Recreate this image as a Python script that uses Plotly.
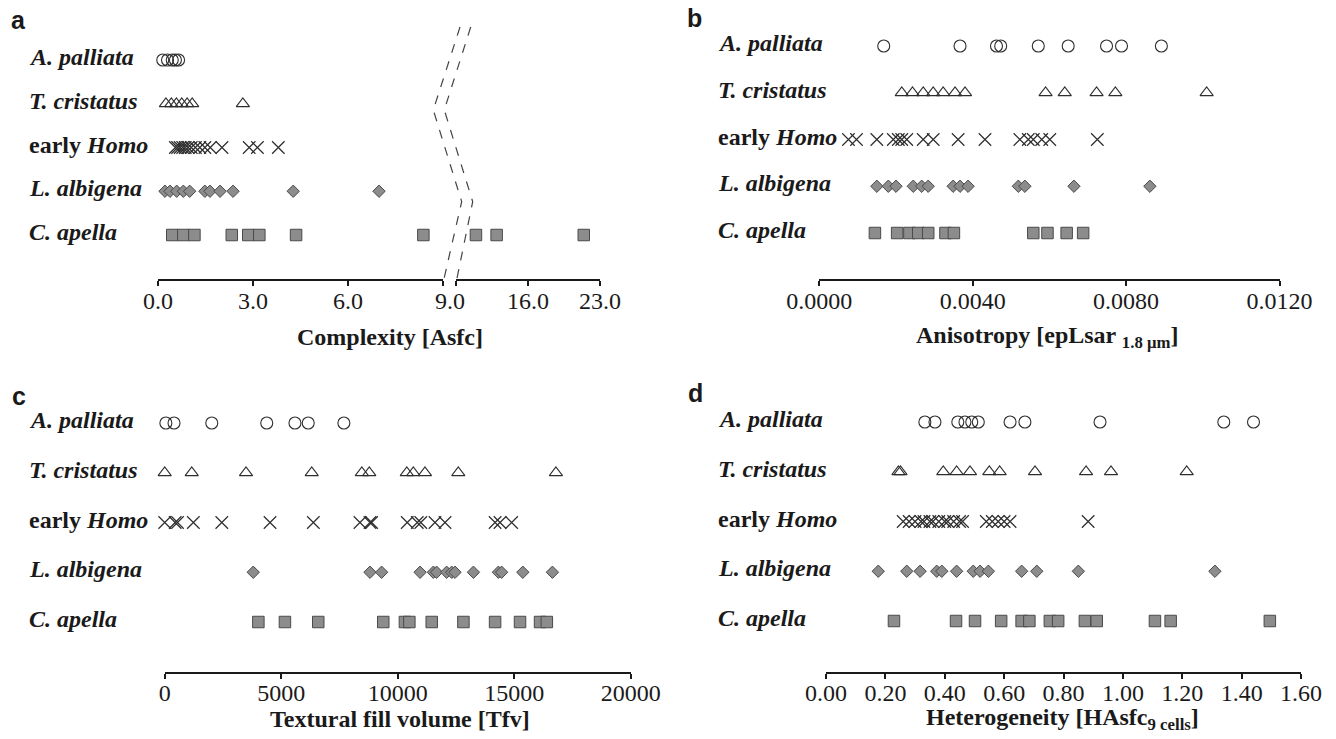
import plotly.graph_objects as go

W, H = 1336, 739

# Row labels (top to bottom)
species_labels = [
    "<b><i>A. palliata</i></b>",
    "<b><i>T. cristatus</i></b>",
    "<b>early <i>Homo</i></b>",
    "<b><i>L. albigena</i></b>",
    "<b><i>C. apella</i></b>",
]

# a) Complexity [Asfc]
asfc_palliata = [0.15, 0.30, 0.45, 0.55, 0.65]
asfc_cristatus = [0.25, 0.42, 0.58, 0.75, 0.92, 1.08, 2.68]
asfc_homo = [0.55, 0.62, 0.70, 0.78, 0.86, 0.95, 1.05, 1.18, 1.32, 1.48, 1.65, 2.02, 2.88, 3.14, 3.80]
asfc_albigena = [0.22, 0.38, 0.59, 0.80, 1.00, 1.48, 1.64, 1.96, 2.37, 4.27, 6.98]
asfc_apella = [0.45, 0.80, 1.15, 2.33, 2.85, 3.20, 4.36, 8.38, 10.94, 12.95, 21.42]

# b) Anisotropy [epLsar 1.8 um]
eplsar_palliata = [0.00168, 0.00367, 0.00462, 0.00473, 0.00571, 0.00649, 0.00749, 0.00788, 0.00892]
eplsar_cristatus = [0.00215, 0.00243, 0.00271, 0.00297, 0.00323, 0.00354, 0.00380,
                    0.00590, 0.00640, 0.00723, 0.00772, 0.01010]
eplsar_homo = [0.00076, 0.00097, 0.00150, 0.00193, 0.00206, 0.00215, 0.00228, 0.00271,
               0.00297, 0.00362, 0.00432, 0.00523, 0.00545, 0.00558, 0.00580, 0.00601, 0.00725]
eplsar_albigena = [0.00150, 0.00180, 0.00200, 0.00245, 0.00267, 0.00284, 0.00349, 0.00367,
                   0.00388, 0.00519, 0.00536, 0.00664, 0.00862]
eplsar_apella = [0.00145, 0.00203, 0.00235, 0.00258, 0.00284, 0.00329, 0.00351,
                 0.00558, 0.00595, 0.00645, 0.00688]

# c) Textural fill volume [Tfv]
tfv_palliata = [50, 400, 2020, 4380, 5590, 6160, 7690]
tfv_cristatus = [0, 1160, 3490, 6310, 8460, 8780, 10390, 10670, 11170, 12600, 16790]
tfv_homo = [0, 450, 550, 1230, 2450, 4520, 6380, 8380, 8810, 8880, 10410, 10840, 10990,
            11600, 12030, 14180, 14390, 14890]
tfv_albigena = [3800, 8810, 9310, 10960, 11530, 11670, 12100, 12320, 12460, 13250,
                14320, 14460, 15370, 16640]
tfv_apella = [4020, 5160, 6590, 9380, 10310, 10500, 11460, 12820, 14180, 15250, 16110, 16400]

# d) Heterogeneity [HAsfc 9 cells]
hasfc_palliata = [0.333, 0.367, 0.444, 0.468, 0.491, 0.513, 0.62, 0.67, 0.923, 1.34, 1.44]
hasfc_cristatus = [0.244, 0.251, 0.395, 0.44, 0.485, 0.55, 0.585, 0.704, 0.876, 0.96, 1.215]
hasfc_homo = [0.26, 0.28, 0.30, 0.32, 0.33, 0.35, 0.36, 0.38, 0.40, 0.41, 0.43, 0.45, 0.46,
              0.54, 0.56, 0.58, 0.60, 0.62, 0.883]
hasfc_albigena = [0.176, 0.272, 0.317, 0.373, 0.39, 0.44, 0.496, 0.519, 0.547, 0.659, 0.71, 0.85, 1.31]
hasfc_apella = [0.229, 0.438, 0.502, 0.59, 0.659, 0.685, 0.754, 0.782, 0.872, 0.912, 1.108, 1.161, 1.495]

SERIF = "Liberation Serif"
SANS = "Liberation Sans"
INK = "#1a1a1a"
EDGE = "#2e2e2e"
GREY = "#8c8c8c"
GREY_EDGE = "#4a4a4a"

marker_styles = [
    dict(symbol="circle-open", size=12, color=EDGE, line=dict(width=1.1, color=EDGE)),
    dict(symbol="triangle-up-open", size=11.5, color=EDGE, line=dict(width=1.1, color=EDGE)),
    dict(symbol="x-thin-open", size=12.5, color=EDGE, line=dict(width=1.2, color=EDGE)),
    dict(symbol="diamond", size=9.5, color=GREY, line=dict(width=1, color=GREY_EDGE)),
    dict(symbol="square", size=11.5, color=GREY, line=dict(width=1, color=GREY_EDGE)),
]


def fx(p):
    return p / W


def fy(p):
    return 1 - p / H


def ydomain(top_row, bottom_row):
    s = (bottom_row - top_row) / 4
    return [fy(bottom_row + s / 2), fy(top_row - s / 2)]


fig = go.Figure()


def add_rows(values_by_row, xa, ya, split=None, xa_hi=None):
    for i, vals in enumerate(values_by_row):
        if split is None:
            groups = [(vals, xa)]
        else:
            groups = [([v for v in vals if v <= split], xa),
                      ([v for v in vals if v > split], xa_hi)]
        for gv, axis in groups:
            if not gv:
                continue
            fig.add_trace(go.Scatter(
                x=gv, y=[i] * len(gv), mode="markers",
                marker=marker_styles[i], xaxis=axis, yaxis=ya,
                cliponaxis=False, showlegend=False, hoverinfo="x",
            ))


add_rows([asfc_palliata, asfc_cristatus, asfc_homo, asfc_albigena, asfc_apella],
         "x", "y", split=9.0, xa_hi="x2")
add_rows([eplsar_palliata, eplsar_cristatus, eplsar_homo, eplsar_albigena, eplsar_apella],
         "x3", "y2")
add_rows([tfv_palliata, tfv_cristatus, tfv_homo, tfv_albigena, tfv_apella], "x4", "y3")
add_rows([hasfc_palliata, hasfc_cristatus, hasfc_homo, hasfc_albigena, hasfc_apella], "x5", "y4")

AX_TOP = 280
AX_BOT = 672.7


def xaxis(left, right, rng, tickvals, ticktext, ypos, edge_tick=None, standoff=-6):
    ax = dict(
        domain=[fx(left), fx(right)], range=rng, anchor="free", position=fy(ypos),
        showline=True, linecolor=INK, linewidth=2, ticks="outside", ticklen=5,
        tickwidth=2, tickcolor=INK, tickvals=tickvals, ticktext=ticktext,
        ticklabelstandoff=standoff,
        tickfont=dict(family=SERIF, size=24, color=INK), showgrid=False,
        zeroline=False, fixedrange=True, automargin=False,
    )
    if edge_tick is not None:
        # unlabeled tick where the broken axis is cut
        ax["minor"] = dict(tickmode="array", tickvals=[edge_tick], ticks="outside",
                           ticklen=5, tickwidth=2, tickcolor=INK, showgrid=False)
    return ax


def yaxis(top_row, bottom_row):
    return dict(domain=ydomain(top_row, bottom_row), range=[4.5, -0.5], visible=False,
                anchor="free", position=0, fixedrange=True, automargin=False)


# broken complexity axis: 0-9 and 9-23
A_SEG1 = (158, 443)
A_SEG2 = (456, 600)
BREAK_AT = 9.0

layout = dict(
    width=W, height=H, autosize=False,
    margin=dict(l=0, r=0, t=0, b=0, pad=0, autoexpand=False),
    paper_bgcolor="white", plot_bgcolor="rgba(0,0,0,0)", showlegend=False,
    xaxis=xaxis(*A_SEG1, [0, BREAK_AT], [0, 3, 6], ["0.0", "3.0", "6.0"], AX_TOP,
                edge_tick=BREAK_AT),
    xaxis2=xaxis(*A_SEG2, [BREAK_AT, 23], [16, 23], ["16.0", "23.0"], AX_TOP,
                 edge_tick=BREAK_AT),
    xaxis3=xaxis(819.3, 1279.5, [0, 0.012], [0, 0.004, 0.008, 0.012],
                 ["0.0000", "0.0040", "0.0080", "0.0120"], AX_TOP),
    xaxis4=xaxis(164.7, 630.7, [0, 20000], [0, 5000, 10000, 15000, 20000],
                 ["0", "5000", "10000", "15000", "20000"], AX_BOT, standoff=-7),
    xaxis5=xaxis(826, 1301, [0, 1.6], [0, 0.2, 0.4, 0.6, 0.8, 1.0, 1.2, 1.4, 1.6],
                 ["0.00", "0.20", "0.40", "0.60", "0.80", "1.00", "1.20", "1.40", "1.60"],
                 AX_BOT, standoff=-7),
    yaxis=yaxis(60, 235),
    yaxis2=yaxis(46, 233),
    yaxis3=yaxis(423, 622),
    yaxis4=yaxis(422, 621),
)
fig.update_layout(**layout)

annotations = []

# row labels
for ya, xpx in [("y", 27), ("y2", 716), ("y3", 27), ("y4", 716)]:
    for i, lab in enumerate(species_labels):
        annotations.append(dict(
            text=lab, xref="paper", x=fx(xpx), xanchor="left", yref=ya, y=i,
            yanchor="middle", yshift=3, showarrow=False,
            font=dict(family=SERIF, size=24, color=INK),
        ))

# shared "9.0" label at the axis break
annotations.append(dict(
    text="9.0", xref="paper", x=fx((A_SEG1[1] + A_SEG2[0]) / 2), xanchor="center",
    yref="paper", y=fy(301), yanchor="middle", showarrow=False,
    font=dict(family=SERIF, size=24, color=INK),
))

# axis titles
titles = [
    ("<b>Complexity [Asfc]</b>", 390, 337),
    ("<b>Anisotropy [epLsar <sub>1.8 μm</sub>]</b>", 1047, 337),
    ("<b>Textural fill volume [Tfv]</b>", 400, 719),
    ("<b>Heterogeneity [HAsfc<sub>9 cells</sub>]</b>", 1062, 719),
]
for txt, xp, yp in titles:
    annotations.append(dict(
        text=txt, xref="paper", x=fx(xp), xanchor="center", yref="paper", y=fy(yp),
        yanchor="middle", showarrow=False, font=dict(family=SERIF, size=24, color=INK),
    ))

# panel letters
for letter, xp, yp in [("a", 9, 20), ("b", 685, 18), ("c", 10, 396), ("d", 686, 393)]:
    annotations.append(dict(
        text="<b>%s</b>" % letter, xref="paper", x=fx(xp), xanchor="left", yref="paper",
        y=fy(yp), yanchor="middle", showarrow=False,
        font=dict(family=SANS, size=25, color=INK),
    ))

fig.update_layout(annotations=annotations)

# dashed zig-zag marking the axis break
def zigzag(points):
    d = "M " + " L ".join("%.5f,%.5f" % (fx(px), fy(py)) for px, py in points)
    return dict(type="path", path=d, xref="paper", yref="paper",
                line=dict(color="#444444", width=1.2, dash="dash"))


break_left = [(460, 27), (433.3, 110), (461.7, 201.7), (A_SEG1[1], AX_TOP + 3)]
break_right = [(470.7, 27), (444.3, 110), (472.7, 201.7), (A_SEG2[0], AX_TOP + 3)]
fig.update_layout(shapes=[zigzag(break_left), zigzag(break_right)])

fig.write_html("out.html")
